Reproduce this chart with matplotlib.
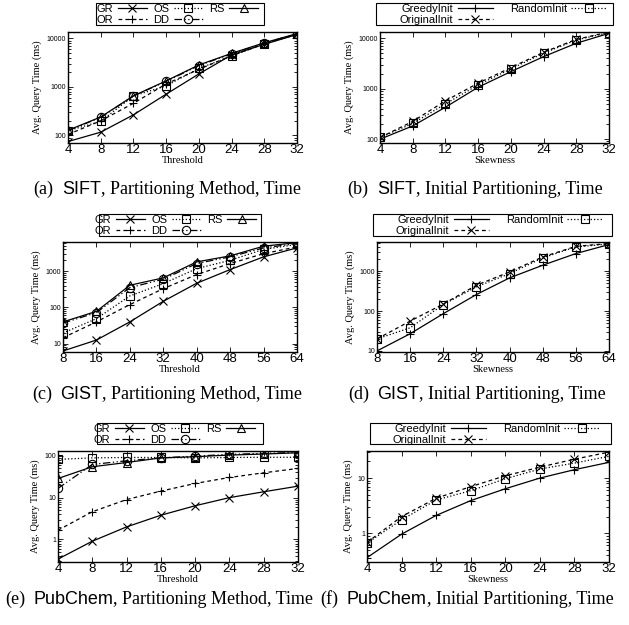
import matplotlib
matplotlib.use('Agg')
import matplotlib.pyplot as plt
from matplotlib.patches import Rectangle
from matplotlib.ticker import LogLocator, NullFormatter, FixedLocator, FixedFormatter
from matplotlib.offsetbox import TextArea, HPacker, AnchoredOffsetbox

SERIF = 'Liberation Serif'
SANS = 'Liberation Sans'

# ---- data ----
sift_x = [4, 8, 12, 16, 20, 24, 28, 32]
sift_gr = [75, 117, 266, 708, 1850, 4540, 7530, 12000]
sift_os = [125, 195, 650, 1050, 2400, 4300, 7800, 12000]
sift_rs = [128, 240, 655, 1330, 2830, 4900, 8100, 12500]
sift_or = [105, 200, 460, 1150, 2300, 4400, 7700, 12200]
sift_dd = [126, 235, 650, 1300, 2750, 4800, 8000, 12400]

sift_greedy = [100, 183, 430, 1070, 2180, 4320, 7960, 12500]
sift_random = [108, 205, 500, 1190, 2470, 5050, 9250, 13000]
sift_original = [108, 225, 575, 1290, 2620, 5280, 9500, 13300]

gist_x = [8, 16, 24, 32, 40, 48, 56, 64]
gist_gr = [6.3, 12.6, 40, 148, 466, 1110, 2490, 4410]
gist_os = [19.7, 49, 208, 455, 1180, 2000, 4000, 5500]
gist_rs = [40, 78, 410, 655, 1810, 2650, 4900, 6150]
gist_or = [14.6, 40, 120, 330, 810, 1630, 3050, 4700]
gist_dd = [37, 72, 353, 600, 1630, 2500, 4400, 5800]

gist_greedy = [10, 27, 86, 260, 680, 1410, 2770, 4660]
gist_random = [20, 38, 146, 405, 870, 2160, 4080, 4800]
gist_original = [20, 56, 150, 445, 960, 2280, 4200, 4950]

pc_x = [4, 8, 12, 16, 20, 24, 28, 32]
pc_gr = [0.34, 0.91, 2.0, 3.8, 6.4, 10, 13.8, 18.8]
pc_os = [82, 89, 91, 91, 89, 91, 92, 92]
pc_rs = [28.7, 54.6, 69, 89, 95, 104, 110, 118]
pc_or = [1.67, 4.6, 9.0, 14.3, 21.8, 30.3, 39.2, 49.8]
pc_dd = [16.6, 62, 76, 89, 98, 108, 114, 120]

pc_greedy = [0.36, 0.96, 2.1, 3.9, 6.4, 10, 14.2, 19.3]
pc_random = [0.66, 1.75, 4.0, 5.9, 9.7, 14.6, 18.7, 24.8]
pc_original = [0.68, 2.0, 4.3, 7.0, 11, 15.8, 22, 29.6]

W, H = 629, 625
fig = plt.figure(figsize=(W/100, H/100), dpi=100)

def px_axes(l, t, r, b):
    return fig.add_axes([l/W, 1-b/H, (r-l)/W, (b-t)/H])

def style(ax, x, ylim, yticks, xlabel):
    ax.set_yscale('log')
    ax.set_xlim(x[0], x[-1])
    ax.set_ylim(*ylim)
    ax.set_xticks(x)
    ax.set_xticklabels([str(v) for v in x], family=SANS, fontsize=9.5)
    ax.yaxis.set_major_locator(FixedLocator(yticks))
    ax.yaxis.set_major_formatter(FixedFormatter([str(v) for v in yticks]))
    ax.yaxis.set_minor_locator(LogLocator(base=10, subs=range(2, 10)))
    ax.yaxis.set_minor_formatter(NullFormatter())
    for lab in ax.get_yticklabels():
        lab.set_family(SANS)
        lab.set_fontsize(5)
    ax.tick_params(which='both', direction='in', top=True, right=True, width=0.6)
    ax.tick_params(which='major', length=3.5, pad=1.5)
    ax.tick_params(which='minor', length=2)
    ax.tick_params(axis='x', pad=1)
    for s in ax.spines.values():
        s.set_linewidth(1.0)
    ax.set_xlabel(xlabel, family=SERIF, fontsize=7.5, labelpad=0)
    ax.set_ylabel('Avg. Query Time (ms)', family=SERIF, fontsize=7.5, labelpad=3)

kw = dict(color='black', linewidth=0.9, markersize=6, markeredgewidth=0.8, fillstyle='none')
dashdot = (0, (6, 2, 1, 2, 1, 2))

def method_plot(ax, x, gr, os_, rs, or_, dd):
    h_gr, = ax.plot(x, gr, '-', marker='x', label='GR', **kw)
    h_os, = ax.plot(x, os_, linestyle=':', marker='s', label='OS', **kw)
    h_rs, = ax.plot(x, rs, '-', marker='^', label='RS', **kw)
    h_or, = ax.plot(x, or_, linestyle=(0, (3, 2.5)), marker='+', label='OR', **kw)
    h_dd, = ax.plot(x, dd, linestyle=dashdot, marker='o', label='DD', **kw)
    return [h_gr, h_or, h_os, h_dd, h_rs]

def init_plot(ax, x, greedy, random, original):
    h_g, = ax.plot(x, greedy, '-', marker='+', label='GreedyInit', **kw)
    h_r, = ax.plot(x, random, linestyle=':', marker='s', label='RandomInit', **kw)
    h_o, = ax.plot(x, original, linestyle=(0, (3, 2.5)), marker='x', label='OriginalInit', **kw)
    return [h_g, h_o, h_r]

def key(ax, handles, right, box, ncol, colsp, hl):
    # gnuplot style key: label before sample, box drawn separately
    l, t, r, b = box
    ax.legend(handles=handles, ncol=ncol, loc='upper right',
              bbox_to_anchor=(right/W, 1-(t+1)/H), bbox_transform=fig.transFigure,
              markerfirst=False, frameon=False,
              prop={'family': SANS, 'size': 8}, handlelength=hl, handletextpad=0.4,
              columnspacing=colsp, labelspacing=0.12, borderpad=0,
              borderaxespad=0)
    fig.add_artist(Rectangle((l/W, 1-b/H), (r-l)/W, (b-t)/H, transform=fig.transFigure,
                             fill=False, edgecolor='black', linewidth=0.8))

def caption(cx, cy, letter, name, rest):
    a = TextArea('(%s)' % letter, textprops=dict(family=SERIF, size=13))
    n = TextArea(name, textprops=dict(family=SANS, size=13))
    r = TextArea(rest, textprops=dict(family=SERIF, size=13))
    box = HPacker(children=[a, HPacker(children=[n, r], sep=0, pad=0, align='baseline')],
                  sep=6, pad=0, align='baseline')
    ab = AnchoredOffsetbox(loc='center', child=box, bbox_to_anchor=(cx/W, 1-cy/H),
                           bbox_transform=fig.transFigure, frameon=False, pad=0, borderpad=0)
    fig.add_artist(ab)

# (a)
ax = px_axes(68, 32, 297, 143)
hs = method_plot(ax, sift_x, sift_gr, sift_os, sift_rs, sift_or, sift_dd)
style(ax, sift_x, (70, 13500), [100, 1000, 10000], 'Threshold')
key(ax, hs, 258, (96, 3, 264, 25), 3, 0.6, 2.6)
caption(167, 189, 'a', 'SIFT', ', Partitioning Method, Time')

# (b)
ax = px_axes(380, 32, 609, 143)
hs = init_plot(ax, sift_x, sift_greedy, sift_random, sift_original)
style(ax, sift_x, (84, 13300), [100, 1000, 10000], 'Skewness')
key(ax, hs, 607, (376, 3, 613, 25), 2, 1.5, 3.2)
caption(475, 189, 'b', 'SIFT', ', Initial Partitioning, Time')

# (c)
ax = px_axes(63, 242, 297, 352)
hs = method_plot(ax, gist_x, gist_gr, gist_os, gist_rs, gist_or, gist_dd)
style(ax, gist_x, (5.9, 6400), [10, 100, 1000], 'Threshold')
key(ax, hs, 256, (99, 214, 261, 236), 3, 0.6, 2.6)
caption(167, 394, 'c', 'GIST', ', Partitioning Method, Time')

# (d)
ax = px_axes(377, 242, 609, 352)
hs = init_plot(ax, gist_x, gist_greedy, gist_random, gist_original)
style(ax, gist_x, (9.4, 5400), [10, 100, 1000], 'Skewness')
key(ax, hs, 603, (373, 214, 612, 236), 2, 1.5, 3.2)
caption(477, 394, 'd', 'GIST', ', Initial Partitioning, Time')

# (e)
ax = px_axes(58, 451, 298, 562)
hs = method_plot(ax, pc_x, pc_gr, pc_os, pc_rs, pc_or, pc_dd)
style(ax, pc_x, (0.29, 130), [1, 10, 100], 'Threshold')
key(ax, hs, 255, (97, 423, 263, 444), 3, 0.6, 2.6)
caption(159, 599, 'e', 'PubChem', ', Partitioning Method, Time')

# (f)
ax = px_axes(367, 451, 609, 562)
hs = init_plot(ax, pc_x, pc_greedy, pc_random, pc_original)
style(ax, pc_x, (0.3, 31), [1, 10], 'Skewness')
key(ax, hs, 600, (370, 423, 611, 444), 2, 1.5, 3.2)
caption(467, 599, 'f', 'PubChem', ', Initial Partitioning, Time')

fig.savefig('out.png', dpi=100)
